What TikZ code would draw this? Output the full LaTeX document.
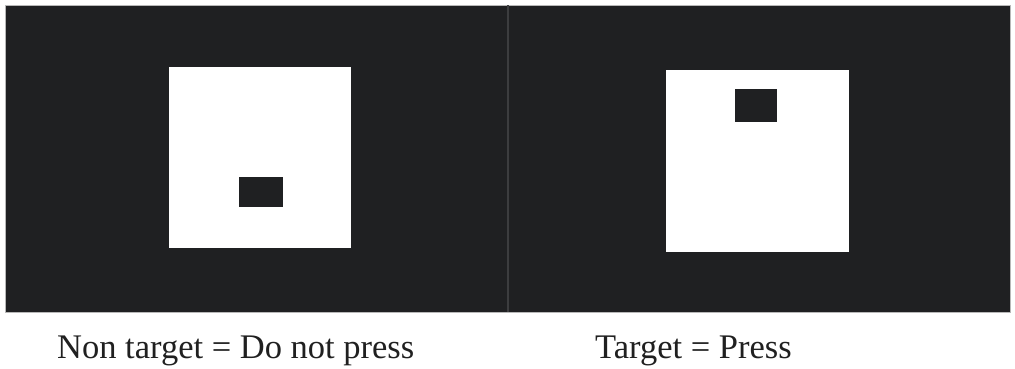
\documentclass[tikz,border=0pt]{standalone}
\usepackage{fontspec}
\setmainfont{Liberation Serif}
\definecolor{panel}{HTML}{1F2022}
\definecolor{edge}{HTML}{B8B8B8}
\definecolor{divider}{HTML}{3C3D3F}
\definecolor{txt}{HTML}{202020}
\begin{document}
\begin{tikzpicture}[x=1pt,y=-1pt,
  panelbox/.style={fill=panel,draw=edge,line width=0.8pt},
  whitesq/.style={fill=white,draw=none},
  blackrect/.style={fill=panel,draw=none},
  caption/.style={anchor=base west,inner sep=0pt,text=txt,font=\fontsize{34.5}{40}\selectfont}]
\useasboundingbox (0,0) rectangle (1015,368);
\fill[white] (0,0) rectangle (1015,368);
\draw[panelbox] (5,5) rectangle (1010.5,312);
\draw[divider,line width=1.2pt] (508,5) -- (508,312);
% left stimulus
\path[whitesq] (169,67) rectangle (351,248);
\path[blackrect] (239,177) rectangle (283,207);
% right stimulus
\path[whitesq] (666,70) rectangle (849,252);
\path[blackrect] (735,89) rectangle (777,122);
\node[caption] (capL) at (57,358) {Non target = Do not press};
\node[caption] (capR) at (595,358) {Target = Press};
\end{tikzpicture}
\end{document}
